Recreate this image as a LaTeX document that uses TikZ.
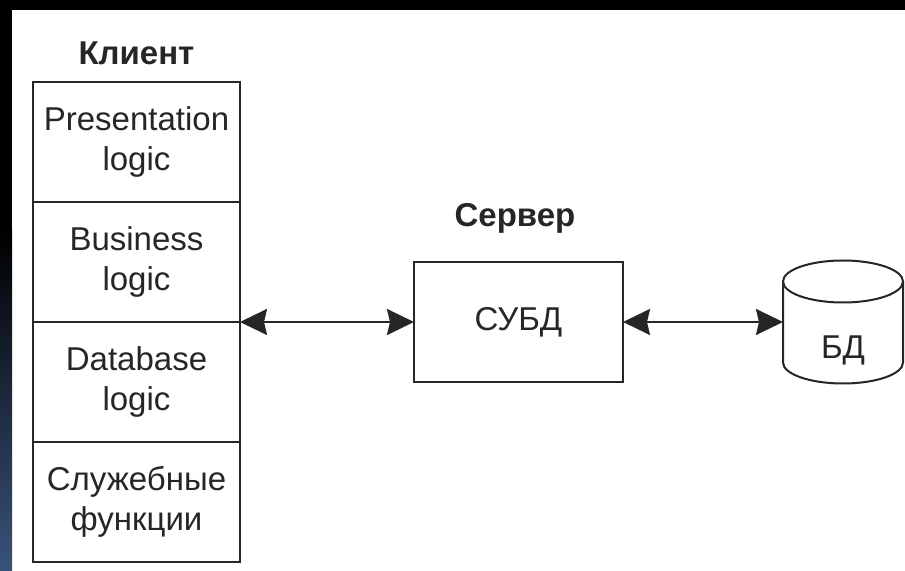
\documentclass[tikz,border=0pt]{standalone}
\usepackage{fontspec}
\setmainfont{Liberation Sans}
\usetikzlibrary{positioning,arrows.meta}

\definecolor{ink}{RGB}{38,38,38}
\definecolor{slideblue}{RGB}{58,82,122}

\tikzset{
    layer/.style={draw=ink, line width=1pt, outer sep=0pt, inner sep=0pt,
        minimum width=103.5pt, minimum height=60pt, align=center,
        text=ink, font=\fontsize{16.5}{20}\selectfont},
    title/.style={text=ink, font=\fontsize{16.5}{20}\selectfont\bfseries},
    dbstore/.style={outer sep=0pt, inner sep=0pt, minimum width=60pt, minimum height=61.5pt},
    link/.style={draw=ink, line width=1pt,
        {Stealth[length=13.5pt, width=13pt, inset=1.5pt]}-{Stealth[length=13.5pt, width=13pt, inset=1.5pt]}}
}

\begin{document}
\begin{tikzpicture}[x=0.5pt, y=0.5pt] % 1 unit = 1 px of the slide
    % Slide frame
    \useasboundingbox (0,0) rectangle (905,-571);
    \fill[white] (0,0) rectangle (905,-571);
    \fill[black] (0,0) rectangle (905,-10); % top band
    \fill[black] (0,0) rectangle (12,-230); % left band
    \shade[top color=black, bottom color=slideblue] (0,-230) rectangle (12,-571);

    % Client column
    \def\cx{136.5} % x of the column
    \node[title] (client) at (\cx,-53) {Клиент};
    \node[layer] (pres) at (\cx,-142) {Presentation\\logic};
    \node[layer] (biz)  at (\cx,-262) {Business\\logic};
    \node[layer] (dbl)  at (\cx,-382) {Database\\logic};
    \node[layer] (serv) at (\cx,-502) {Служебные\\функции};

    % Server
    \node[title] (server) at (515,-218) {Сервер};
    \node[layer, minimum width=104.5pt] (dbms) at (518.5,-322) {СУБД};

    % Database (cylinder)
    \node[dbstore] (bd) at (843,-322) {};
    \draw[ink, line width=1pt] ([yshift=-10.5pt]bd.north) ellipse [x radius=30pt, y radius=10.5pt];
    \draw[ink, line width=1pt] ([yshift=-10.5pt]bd.north west) -- ([yshift=10.5pt]bd.south west)
        arc [start angle=180, end angle=360, x radius=30pt, y radius=10.5pt]
        -- ([yshift=-10.5pt]bd.north east);
    \node[text=ink, font=\fontsize{16.5}{20}\selectfont] (bdname) at ([yshift=-14pt]bd.center) {БД};

    % Connections
    \draw[link] (biz.south east) -- (dbms.west);
    \draw[link] (dbms.east) -- (bd.west);
\end{tikzpicture}
\end{document}
